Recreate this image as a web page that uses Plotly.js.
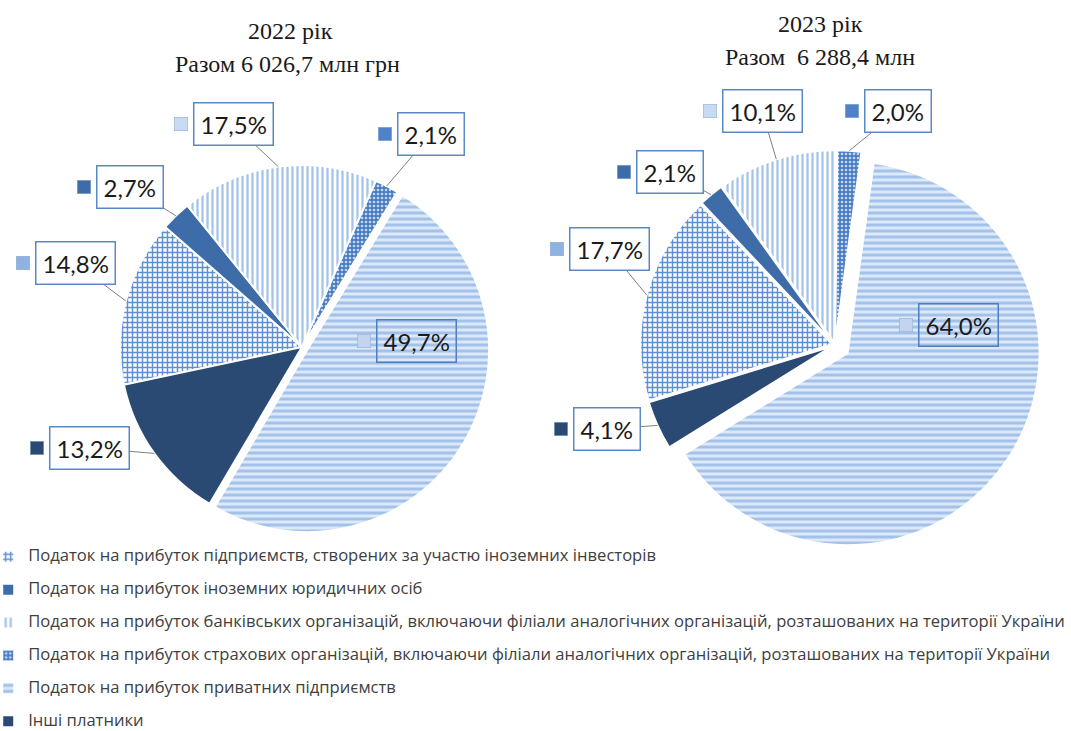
<!DOCTYPE html>
<html><head><meta charset="utf-8">
<script src="https://cdn.plot.ly/plotly-3.0.1.min.js"></script>
<style>html,body{margin:0;padding:0;background:#fff}#chart{width:1071px;height:731px}</style>
</head><body><div id="chart"></div>
<script>
// ---------- data ----------
const categories = [
  "Податок на прибуток підприємств, створених за участю іноземних інвесторів",
  "Податок на прибуток іноземних юридичних осіб",
  "Податок на прибуток банківських організацій, включаючи філіали аналогічних організацій, розташованих на території України",
  "Податок на прибуток страхових організацій, включаючи філіали аналогічних організацій, розташованих на території України",
  "Податок на прибуток приватних підприємств",
  "Інші платники"
];
const yearTitles = ["2022 рік", "2023 рік"];
const totalTitles = ["Разом 6 026,7 млн грн", "Разом  6 288,4 млн"];
const shares2022 = [14.8, 2.7, 17.5, 2.1, 49.7, 13.2];
const shares2023 = [17.7, 2.1, 10.1, 2.0, 64.0, 4.1];

// ---------- styles / layout constants ----------
const W = 1071, H = 731;
const baseColors = ['#ffffff', '#3e6ca9', '#ffffff', '#4a7cc2', '#dde9f8', '#2b4a73'];
const keyColors  = ['#8fb2e3', '#3e6ca9', '#c9dbf3', '#4f82c6', '#c3d5ee', '#2b4a73'];
const pattern = {
  shape:   ['+', '', '|', '.', '-', ''],
  bgcolor: ['#ffffff', '#3e6ca9', '#ffffff', '#4a7cc2', '#dde9f8', '#2b4a73'],
  fgcolor: ['#5d8fd6', '#3e6ca9', '#a3c3eb', '#c4d8f3', '#a3c2ea', '#2b4a73'],
  size:    [5, 8, 5, 4, 6, 8],
  solidity:[0.5, 0.3, 0.45, 0.35, 0.5, 0.3],
  fillmode: 'replace'
};
const pies = [
  {values: shares2022, rotation: 258, domain: {x: [0.1064, 0.4575], y: [0.2681, 0.7825]},
   pull: [0, 0, 0, 0, 0.033, 0],
   labelPx: [[75,263],[130,187],[233,124],[431,134],[416,341],[89,448]],
   titlePx: [[290,31],[287,64]]},
  {values: shares2023, rotation: 253, domain: {x: [0.5864, 0.9729], y: [0.2449, 0.8112]},
   pull: [0.015, 0.015, 0.015, 0.015, 0.078, 0.015],
   labelPx: [[609,249],[670,172],[762,111],[898,111],[958,325],[607,429]],
   titlePx: [[820,24],[820,57]]}
];
const insideIdx = 4; // label drawn inside the slice

const legendLabels = categories.map(c => '<span style="font-size:16.6px">' + c + '</span><br> ');

function fmt(v) { return v.toFixed(1).replace('.', ',') + '%'; }

const labelFont = {family: 'Lato', size: 24, color: '#1a1a1a'};
const traces = [];
const annotations = [];
pies.forEach((p, k) => {
  traces.push({
    type: 'pie', labels: legendLabels, values: p.values, sort: false,
    direction: 'clockwise', rotation: p.rotation, domain: p.domain, pull: p.pull,
    textinfo: 'none', hovertemplate: '%{percent}<extra></extra>',
    marker: {colors: baseColors, line: {color: '#ffffff', width: 2}, pattern: pattern},
    showlegend: k === 0
  });
  // geometry as Plotly computes it
  const w = (p.domain.x[1] - p.domain.x[0]) * W, h = (p.domain.y[1] - p.domain.y[0]) * H;
  const maxPull = Math.max(...p.pull);
  const r = Math.min(w, h) / (2 + 2 * maxPull);
  const cx = W * (p.domain.x[0] + p.domain.x[1]) / 2;
  const cy = H * (1 - p.domain.y[0]) - h / 2;
  const total = p.values.reduce((a, b) => a + b, 0);
  let cum = 0;
  p.values.forEach((v, i) => {
    const ang = (p.rotation + 360 * (cum + v / 2) / total) * Math.PI / 180;
    cum += v;
    const R = r * (1 + p.pull[i]);
    const tx = cx + R * Math.sin(ang), ty = cy - R * Math.cos(ang);
    const [lx, ly] = p.labelPx[i];
    const txt = fmt(v);
    const inside = i === insideIdx;
    if (inside) {
      annotations.push({xref: 'paper', yref: 'paper', x: lx / W, y: 1 - ly / H, showarrow: false,
        xanchor: 'center', yanchor: 'middle',
        text: txt, font: labelFont,
        bordercolor: '#4f7fc0', borderwidth: 1.5, borderpad: 6, bgcolor: 'rgba(0,0,0,0)'});
    } else {
      annotations.push({xref: 'paper', yref: 'paper', x: tx / W, y: 1 - ty / H,
        ax: lx - tx, ay: ly - ty, showarrow: true, arrowhead: 0, arrowwidth: 1, arrowcolor: '#808080',
        text: txt, font: labelFont,
        bordercolor: '#5a8ac6', borderwidth: 1.5, borderpad: 6, bgcolor: '#ffffff'});
    }
    const keyOff = txt.length * 6 + 22;
    annotations.push({xref: 'paper', yref: 'paper', x: (lx - keyOff) / W, y: 1 - ly / H, showarrow: false,
      xanchor: 'center', yanchor: 'middle',
      text: ' ', width: 13, height: 13, bgcolor: keyColors[i], bordercolor: '#8aa6cc', borderwidth: 0.5, borderpad: 0});
  });
  p.titlePx.forEach((t, j) => {
    annotations.push({xref: 'paper', yref: 'paper', x: t[0] / W, y: 1 - t[1] / H, showarrow: false,
      xanchor: 'center', yanchor: 'middle',
      text: j === 0 ? yearTitles[k] : totalTitles[k],
      font: {family: 'Liberation Serif', size: 24, color: '#1a1a1a'}});
  });
});

const layout = {
  width: W, height: H, margin: {l: 0, r: 0, t: 0, b: 0, autoexpand: false},
  paper_bgcolor: '#ffffff', plot_bgcolor: '#ffffff',
  showlegend: true,
  legend: {x: -0.011, xanchor: 'left', y: 0.2575, yanchor: 'top', valign: 'top',
    font: {family: 'Open Sans', size: 11.5, color: '#404040'}, bgcolor: 'rgba(0,0,0,0)', itemclick: false},
  annotations: annotations
};
Plotly.newPlot('chart', traces, layout, {displayModeBar: false, staticPlot: true});
</script>
</body></html>
